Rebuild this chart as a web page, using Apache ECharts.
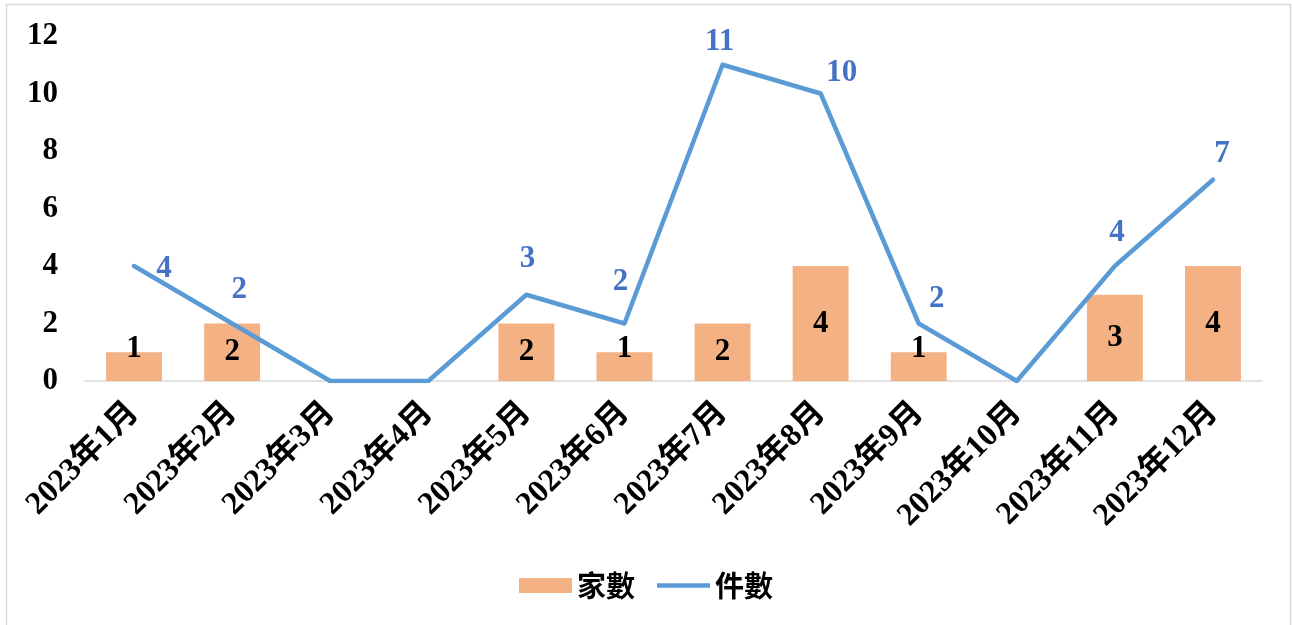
<!DOCTYPE html>
<html><head><meta charset="utf-8">
<script src="https://cdn.jsdelivr.net/npm/echarts@6/dist/echarts.min.js"></script>
<style>html,body{margin:0;padding:0;background:#fff}#c{width:1292px;height:625px}</style>
</head><body><div id="c"></div>
<script>
const categories = ['2023年1月','2023年2月','2023年3月','2023年4月','2023年5月','2023年6月','2023年7月','2023年8月','2023年9月','2023年10月','2023年11月','2023年12月'];
const companies = [1, 2, 0, 0, 2, 1, 2, 4, 1, 0, 3, 4];   // 家數
const cases = [4, 2, 0, 0, 3, 2, 11, 10, 2, 0, 4, 7];     // 件數
const yTicks = [0, 2, 4, 6, 8, 10, 12];

const FONT = '"Liberation Serif", "Times New Roman", "Noto Sans CJK TC", serif';
// label placement nudges (relative to each point), as in the original
const lineLabelOffsets = [[30,3],[7,-34],[0,0],[0,0],[1,-36],[-4,-42],[-3,-23],[21,-21],[18,-25],[0,0],[2,-33],[9,-26]];

const chart = echarts.init(document.getElementById('c'), null, {renderer: 'canvas'});
chart.setOption({
  animation: false,
  graphic: [{type: 'rect', silent: true, shape: {x: 6.5, y: 4.5, width: 1284, height: 640}, style: {fill: 'none', stroke: '#d9d9d9', lineWidth: 1.5}}],
  grid: {left: 85, right: 30, top: 36, bottom: 244, containLabel: false},
  legend: {
    top: 566, left: 'center', itemGap: 22, itemWidth: 53, itemHeight: 15,
    textStyle: {fontFamily: '"Noto Sans CJK TC", sans-serif', fontWeight: 'bold', fontSize: 29, color: '#000'},
    data: [{name: '家數', icon: 'rect'}, {name: '件數', icon: 'path://M0,0 L53,0 L53,4.5 L0,4.5 Z'}]
  },
  xAxis: {
    type: 'category', data: categories,
    axisLine: {lineStyle: {color: '#d9d9d9', width: 1.5}},
    axisTick: {show: false},
    axisLabel: {rotate: 45, interval: 0, margin: 27, fontFamily: FONT, fontWeight: 'bold', fontSize: 32, color: '#000'}
  },
  yAxis: {
    type: 'value', min: yTicks[0], max: yTicks[yTicks.length - 1], interval: 2,
    splitLine: {show: false}, axisLine: {show: false}, axisTick: {show: false},
    axisLabel: {margin: 27, fontFamily: FONT, fontWeight: 'bold', fontSize: 31, color: '#000'}
  },
  series: [
    {
      name: '家數', type: 'bar', barWidth: '57%',
      itemStyle: {color: '#F4B183'},
      data: companies.map(v => ({value: v, label: {show: v > 0, offset: v === 1 ? [0, -18] : [0, 0]}})),
      label: {position: 'inside', fontFamily: FONT, fontWeight: 'bold', fontSize: 31, color: '#000'}
    },
    {
      name: '件數', type: 'line', symbol: 'circle', symbolSize: 0, showSymbol: true,
      lineStyle: {color: '#5B9BD5', width: 4.5, cap: 'round', join: 'round'},
      itemStyle: {color: '#5B9BD5'},
      data: cases.map((v, i) => ({value: v, label: {show: v > 0, offset: lineLabelOffsets[i]}})),
      label: {position: 'inside', fontFamily: FONT, fontWeight: 'bold', fontSize: 31, color: '#4472C4'}
    }
  ]
});
</script></body></html>
